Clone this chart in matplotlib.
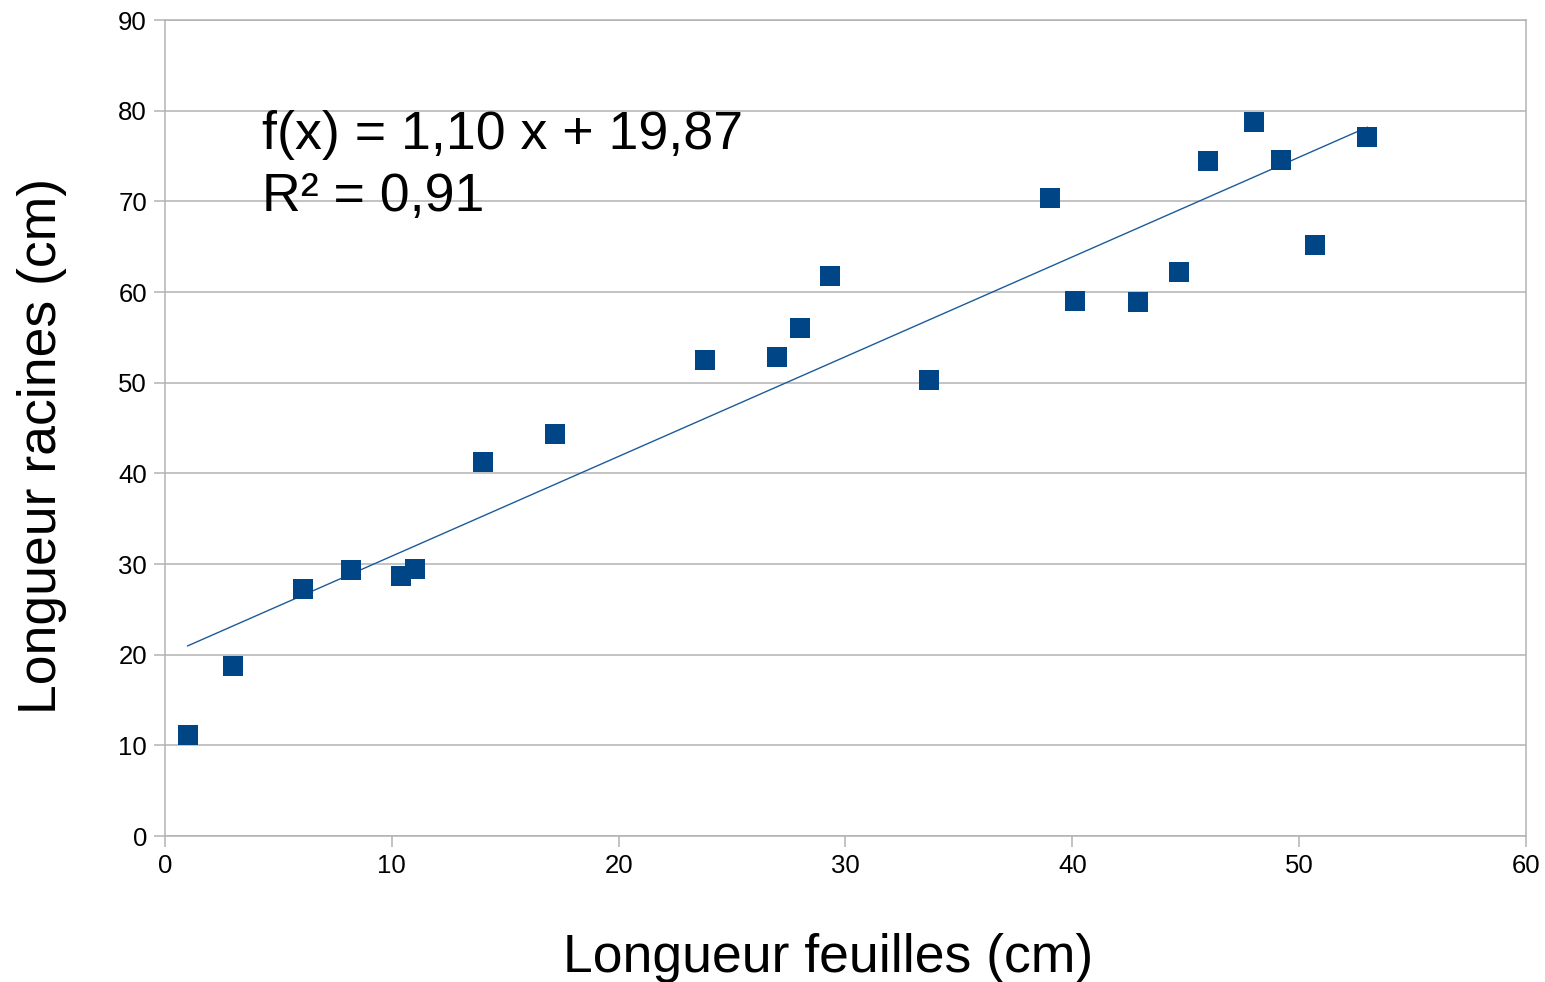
import matplotlib
matplotlib.use("Agg")
import matplotlib.pyplot as plt
import numpy as np

plt.rcParams['font.family'] = ['Liberation Sans', 'DejaVu Sans']

leaf = [1.0, 3.0, 6.1, 8.2, 10.4, 11.0, 14.0, 17.2, 23.8, 27.0, 28.0, 29.3,
        33.7, 39.0, 40.1, 42.9, 44.7, 46.0, 48.0, 49.2, 50.7, 53.0]
root = [11.1, 18.7, 27.2, 29.3, 28.7, 29.4, 41.3, 44.3, 52.5, 52.8, 56.0, 61.8,
        50.3, 70.4, 59.0, 58.9, 62.2, 74.5, 78.8, 74.6, 65.2, 77.1]
slope = 1.10
intercept = 19.87
r2 = 0.91
x_ticks = [0, 10, 20, 30, 40, 50, 60]
y_ticks = [0, 10, 20, 30, 40, 50, 60, 70, 80, 90]

W, H = 1545, 982
fig = plt.figure(figsize=(W/100, H/100), dpi=100)
ax = fig.add_axes([165/W, 1-836/H, (1526-165)/W, (836-20)/H])

grid_c = '#b3b3b3'
for yv in y_ticks:
    ax.axhline(yv, color=grid_c, lw=1.1, zorder=0)

xs = np.array([min(leaf), max(leaf)])
ax.plot(xs, slope*xs + intercept, color='#1c5b9b', lw=1.0, zorder=2)
ax.scatter(leaf, root, marker='s', s=210, color='#004586', edgecolors='#004586',
           linewidths=0, zorder=3)

ax.set_xlim(0, 60)
ax.set_ylim(0, 90)
ax.set_xticks(x_ticks)
ax.set_yticks(y_ticks)
ax.set_xticklabels([str(v) for v in x_ticks])
ax.set_yticklabels([str(v) for v in y_ticks])
for s in ax.spines.values():
    s.set_color(grid_c)
    s.set_linewidth(1.1)
ax.tick_params(axis='both', direction='out', length=8, width=1.1, color=grid_c,
               labelsize=18.5, labelcolor='black', pad=5)

fig.text(828/W, 1-972/H, 'Longueur feuilles (cm)', fontsize=38.5,
         ha='center', va='baseline')
fig.text(42/W, 1-445.5/H, 'Longueur racines (cm)', fontsize=38.5,
         ha='center', va='center', rotation=90)

fig.text(262/W, 1-149/H, f'f(x) = {slope:.2f} x + {intercept:.2f}'.replace('.', ','),
         fontsize=38.7, va='baseline', ha='left')
fig.text(262/W, 1-211/H, f'R² = {r2:.2f}'.replace('.', ','), fontsize=38.7,
         va='baseline', ha='left')

fig.savefig('out.png', dpi=100)
